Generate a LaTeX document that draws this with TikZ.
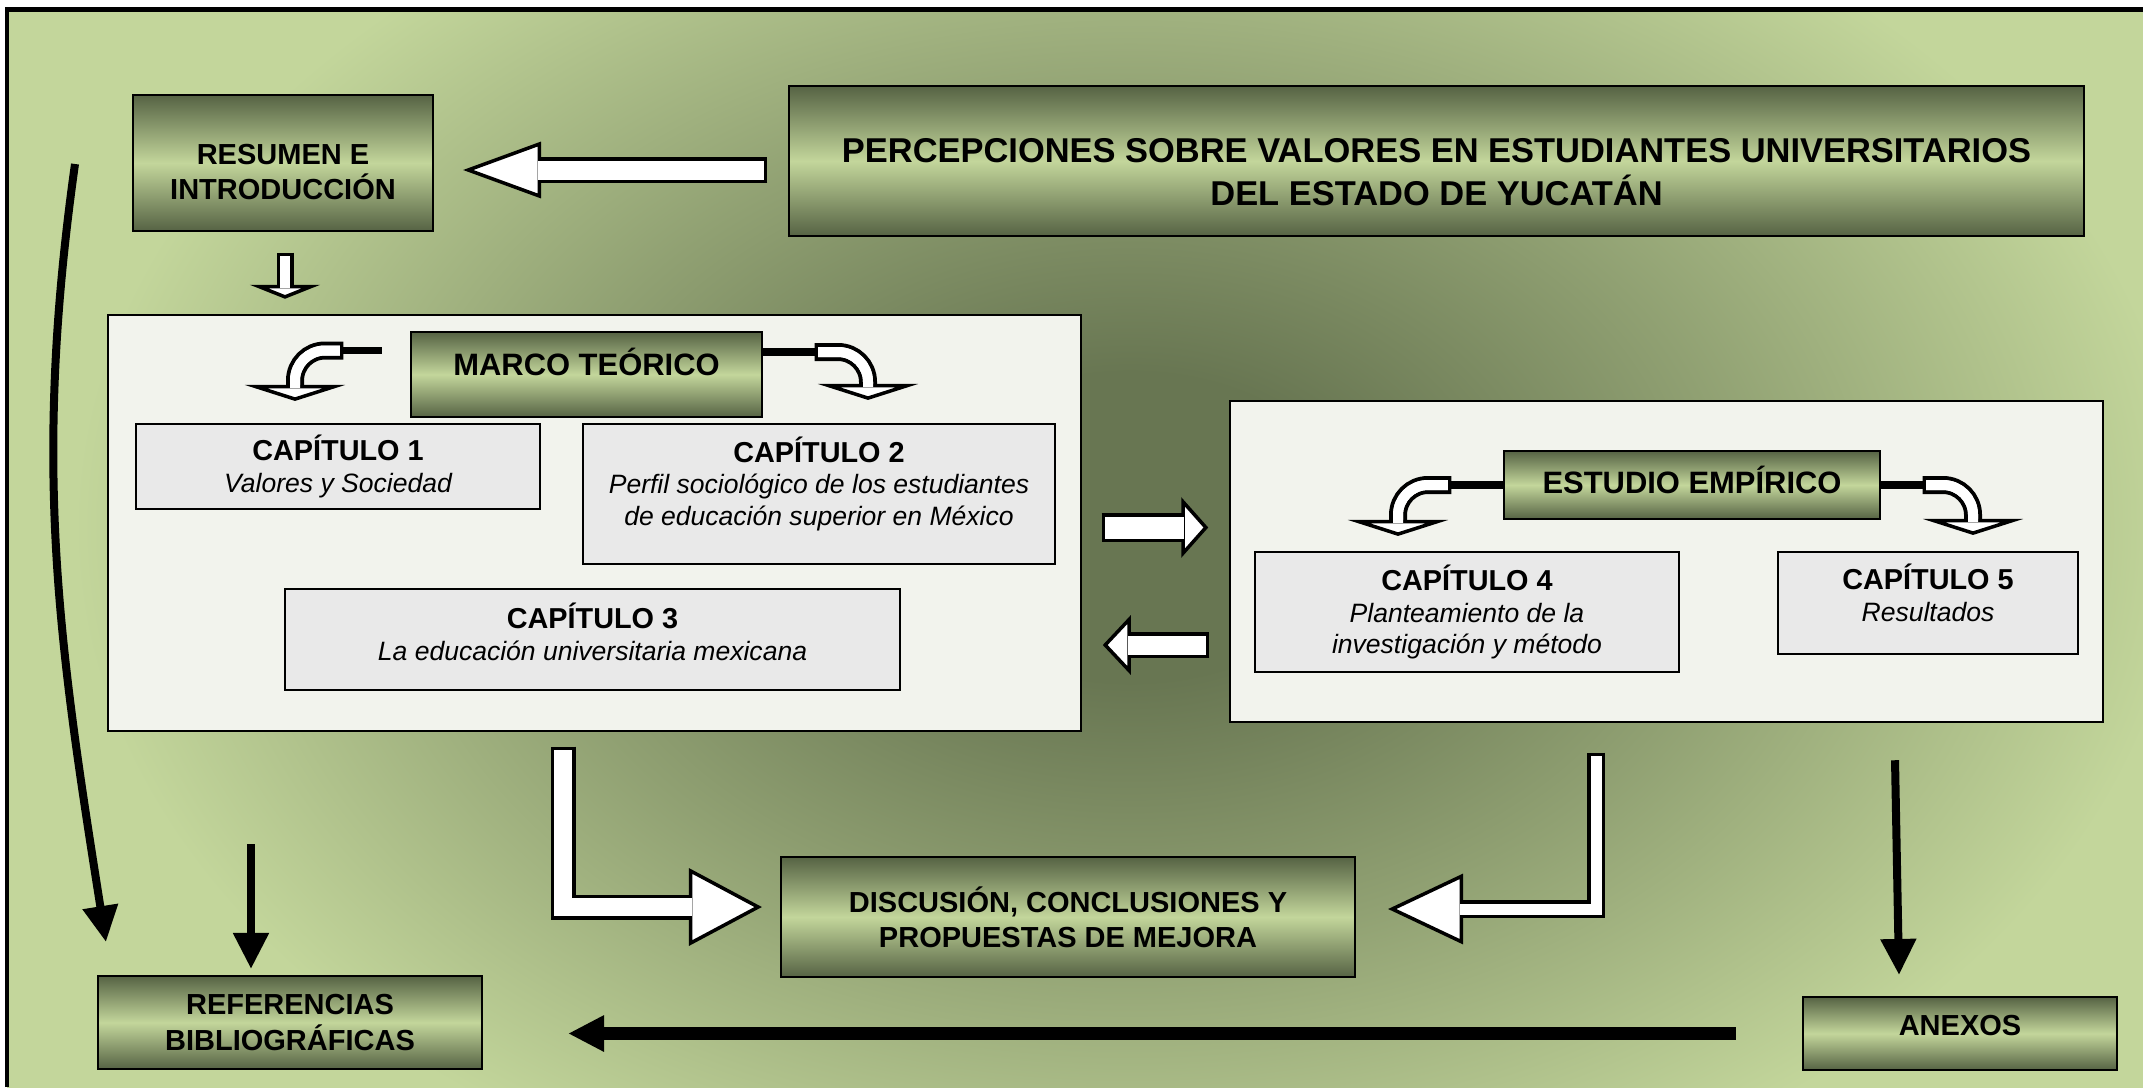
\documentclass[tikz,border=0pt]{standalone}
\usepackage{fontspec}
\setmainfont{Liberation Sans}
\usepackage{xcolor}
\usepackage{tikz}
\usetikzlibrary{arrows.meta,calc}

\definecolor{bglight}{RGB}{195,214,155}
\definecolor{bgdark}{RGB}{104,118,82}
\definecolor{boxdark}{RGB}{86,99,68}
\definecolor{panel}{RGB}{242,243,237}
\definecolor{marble}{RGB}{233,233,233}
\pgfdeclareradialshading{bgglow}{\pgfpoint{0bp}{0bp}}{color(0bp)=(bgdark); color(3.5bp)=(bgdark);
  color(9.5bp)=(bgdark!55!bglight); color(16.5bp)=(bglight); color(50bp)=(bglight)}

\begin{document}
\begin{tikzpicture}[
    greenbox/.style={draw=black, line width=0.6pt, top color=boxdark, bottom color=boxdark, middle color=bglight,
        align=center, inner sep=0pt, font=\bfseries\fontsize{8.25}{10}\selectfont},
    panelbox/.style={draw=black, line width=0.7pt, fill=panel, inner sep=0pt},
    chapbox/.style={draw=black, line width=0.6pt, fill=marble, align=center, inner sep=0pt,
        font=\itshape\fontsize{7.55}{9}\selectfont},
    hollow/.style n args={5}{draw=white, line width=#1, line join=miter,
        -{Triangle[width=#3, length=#4, fill=white, color=black, line width=1pt]},
        preaction={draw=black, line width=#2, arrows=-, line join=miter, shorten >=#5, shorten <=-1pt},
        postaction={draw=white, line width=#1, arrows=-, line join=miter, shorten >=#5}},
    bendarrow/.style={hollow={0.10cm}{0.18cm}{1.0cm}{0.16cm}{0.13cm}, rounded corners=0.3cm},
    bendbar/.style={draw=black, line width=0.075cm},
    solidarrow/.style={draw=black, line width=#1, -{Triangle[width=0.34cm, length=0.36cm]}},
    solidarrow/.default=0.08cm,
  ]
\useasboundingbox (0,0) rectangle (21.43,10.87);
\fill[white] (0,0) rectangle (21.43,10.87);
\begin{scope}
  \clip (0.07,0) rectangle (21.43,10.775);
  \fill[bglight] (0,0) rectangle (21.43,10.87);
  \shade[shading=bgglow] (11.3,5.6) ellipse (16 and 11); % dark middle
\end{scope}
\draw[line width=0.045cm] (0.07,0) -- (0.07,10.775) -- (21.43,10.775);

% boxes
\node[greenbox, minimum width=3.00cm, minimum height=1.36cm, text height=21pt] (resumen) at (2.83,9.24) {RESUMEN E\\INTRODUCCIÓN};
\node[greenbox, minimum width=12.95cm, minimum height=1.50cm, text height=25.7pt, font=\bfseries\fontsize{9.8}{12.5}\selectfont] (title) at (14.365,9.26)
    {PERCEPCIONES SOBRE VALORES EN ESTUDIANTES UNIVERSITARIOS\\DEL ESTADO DE YUCATÁN};

\node[panelbox, minimum width=9.73cm, minimum height=4.16cm] (marco) at (5.945,5.64) {};
\node[greenbox, minimum width=3.51cm, minimum height=0.85cm, text depth=7pt, font=\bfseries\fontsize{8.8}{10}\selectfont] (mt) at (5.865,7.125) {MARCO TEÓRICO};
\node[chapbox, minimum width=4.04cm, minimum height=0.85cm] (cap1) at (3.38,6.205)
    {{\upshape\bfseries\fontsize{8.2}{9}\selectfont CAPÍTULO 1}\\Valores y Sociedad};
\node[chapbox, minimum width=4.72cm, minimum height=1.40cm, text depth=7.3pt] (cap2) at (8.19,5.93)
    {{\upshape\bfseries\fontsize{8.2}{9}\selectfont CAPÍTULO 2}\\Perfil sociológico de los estudiantes\\de educación superior en México};
\node[chapbox, minimum width=6.15cm, minimum height=1.01cm, text depth=4.6pt] (cap3) at (5.925,4.475)
    {{\upshape\bfseries\fontsize{8.2}{9}\selectfont CAPÍTULO 3}\\La educación universitaria mexicana};

\node[panelbox, minimum width=8.73cm, minimum height=3.21cm] (estudio) at (16.665,5.255) {};
\node[greenbox, minimum width=3.76cm, minimum height=0.68cm, text depth=3pt, font=\bfseries\fontsize{8.8}{10}\selectfont] (ee) at (16.92,6.02) {ESTUDIO EMPÍRICO};
\node[chapbox, minimum width=4.24cm, minimum height=1.20cm] (cap4) at (14.67,4.75)
    {{\upshape\bfseries\fontsize{8.2}{9}\selectfont CAPÍTULO 4}\\Planteamiento de la\\investigación y método};
\node[chapbox, minimum width=3.00cm, minimum height=1.02cm, text depth=5.7pt] (cap5) at (19.28,4.84)
    {{\upshape\bfseries\fontsize{8.2}{9}\selectfont CAPÍTULO 5}\\Resultados};

\node[greenbox, minimum width=5.74cm, minimum height=1.20cm] (disc) at (10.68,1.70) {DISCUSIÓN, CONCLUSIONES Y\\PROPUESTAS DE MEJORA};
\node[greenbox, minimum width=3.84cm, minimum height=0.93cm] (refs) at (2.90,0.645) {REFERENCIAS\\BIBLIOGRÁFICAS};
\node[greenbox, minimum width=3.14cm, minimum height=0.73cm, text depth=4.6pt] (anexos) at (19.60,0.535) {ANEXOS};

% white arrows
\draw[hollow={0.19cm}{0.26cm}{0.56cm}{0.78cm}{0.75cm}] ([xshift=-0.24cm,yshift=-0.09cm]title.west) -- ([xshift=0.29cm,yshift=-0.07cm]resumen.east);
\draw[hollow={0.10cm}{0.17cm}{0.70cm}{0.14cm}{0.11cm}] ([xshift=0.02cm,yshift=-0.24cm]resumen.south) -- ($(resumen.south |- marco.north)+(0.02,0.15)$);
\draw[hollow={0.22cm}{0.29cm}{0.60cm}{0.27cm}{0.24cm}] ([xshift=0.23cm,yshift=-0.045cm]marco.east) -- ++(1.03,0);
\draw[hollow={0.19cm}{0.26cm}{0.59cm}{0.28cm}{0.25cm}] ([xshift=-0.23cm,yshift=-0.835cm]estudio.west) -- ++(-1.03,0);
\draw[hollow={0.18cm}{0.25cm}{0.77cm}{0.73cm}{0.70cm}] ($(marco.south)+(-0.315,-0.18)$) |- ($(disc.west)+(-0.18,0.10)$);
\draw[hollow={0.11cm}{0.18cm}{0.70cm}{0.75cm}{0.72cm}] ($(estudio.south)+(-0.705,-0.33)$) |- ($(disc.east)+(0.32,0.08)$);

% bent arrows inside the panels
\draw[bendbar] ([xshift=-0.28cm,yshift=0.24cm]mt.west) -- ++(-0.42,0) coordinate (b1);
\draw[bendarrow] (b1) -| ([xshift=-0.43cm,yshift=0.22cm]cap1.north);
\draw[bendbar] ([yshift=0.225cm]mt.east) -- ++(0.55,0) coordinate (b2);
\draw[bendarrow] (b2) -| ([xshift=0.49cm,yshift=0.23cm]cap2.north);
\draw[bendbar] (ee.west) -- ++(-0.55,0) coordinate (b3);
\draw[bendarrow] (b3) -| ([xshift=-0.69cm,yshift=0.15cm]cap4.north);
\draw[bendbar] (ee.east) -- ++(0.45,0) coordinate (b4);
\draw[bendarrow] (b4) -| ([xshift=0.45cm,yshift=0.16cm]cap5.north);

% black arrows
\coordinate (lstart) at (0.75,9.23);
\coordinate (rstart) at (2.51,2.43);
\draw[solidarrow] (lstart) to[out=262,in=99] ($(refs.north west)+(0.09,0.33)$);
\draw[solidarrow] (rstart) -- ($(refs.north)+(-0.39,0.06)$);
\draw[solidarrow] ($(estudio.south)+(2.285,-0.37)$) -- ($(anexos.north)+(-0.61,0.21)$);
\draw[solidarrow=0.13cm] ($(anexos.west)+(-0.66,0)$) -- ($(refs.east)+(0.85,-0.11)$);
\end{tikzpicture}
\end{document}
